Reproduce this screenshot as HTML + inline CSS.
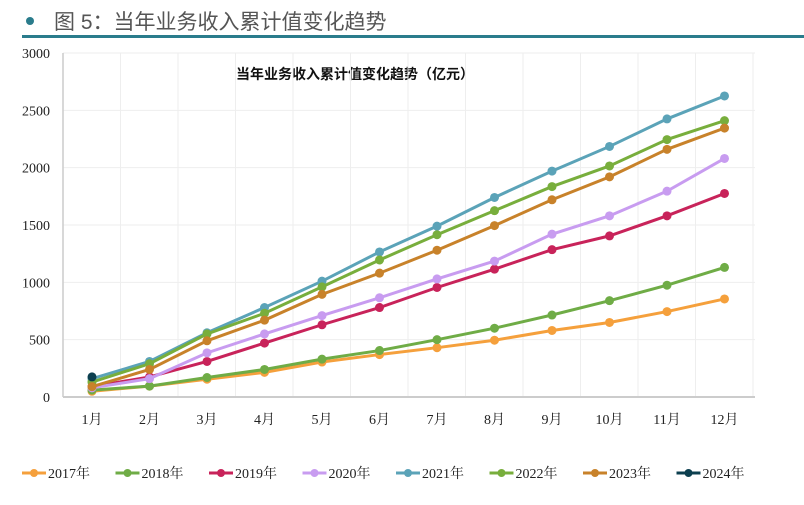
<!DOCTYPE html>
<html><head><meta charset="utf-8"><style>
body{margin:0;background:#fff;width:804px;height:500px;overflow:hidden;font-family:"Liberation Serif","Noto Serif CJK SC",serif;}
</style></head><body>
<svg id="s" width="804" height="500" xmlns="http://www.w3.org/2000/svg">
<circle cx="30" cy="21" r="4" fill="#2a7c8c"/>
<text x="54" y="29" font-family="Liberation Sans,Noto Sans CJK SC,sans-serif" font-size="21" fill="#555">图 5：当年业务收入累计值变化趋势</text>
<rect x="22" y="35" width="782" height="3" fill="#2a7c8c"/>
<text x="236" y="79" font-family="Noto Sans CJK SC,sans-serif" font-weight="bold" font-size="14" fill="#111">当年业务收入累计值变化趋势（亿元）</text>
<g id="g"></g>
</svg>
<script>
var g=document.getElementById('g'),h='';
function Y(v){return 397-v*0.11467;}
function X(i){return 92+i*57.5;}
for(var i=0;i<=12;i++){var x=63+i*57.5;h+='<line x1="'+x+'" y1="53" x2="'+x+'" y2="397" stroke="#eee"/>';}
for(var v=0;v<=3000;v+=500){h+='<line x1="63" y1="'+Y(v)+'" x2="755" y2="'+Y(v)+'" stroke="'+(v==0?'#ccc':'#eee')+'" stroke-width="'+(v==0?2:1)+'"/>';
h+='<text x="50" y="'+(Y(v)+5)+'" text-anchor="end" font-size="14" fill="#222">'+v+'</text>';}
h+='<line x1="63" y1="53" x2="63" y2="397" stroke="#ccc" stroke-width="1.5"/>';
for(var i=0;i<12;i++)h+='<text x="'+X(i)+'" y="424" text-anchor="middle" font-size="14" fill="#222">'+(i+1)+'月</text>';
var S=[
['2017年','#f5a03c',[50,95,155,215,305,370,430,495,580,650,745,855]],
['2018年','#6fac46',[60,95,170,240,330,405,500,600,715,840,975,1130]],
['2019年','#c8235a',[90,175,310,470,630,780,955,1115,1285,1405,1580,1775]],
['2020年','#c89cf0',[80,160,385,550,710,865,1030,1185,1420,1580,1795,2080]],
['2021年','#5ba3b8',[160,310,560,780,1010,1265,1490,1740,1970,2185,2425,2625]],
['2022年','#78ae3c',[130,290,550,730,960,1195,1415,1625,1835,2015,2245,2410]],
['2023年','#c8822a',[90,240,490,670,895,1080,1280,1495,1720,1920,2160,2345]],
['2024年','#0c3f4f',[175]]];
S.forEach(function(s){var p=s[2].map(function(v,i){return X(i)+','+Y(v)}).join(' ');
h+='<polyline points="'+p+'" fill="none" stroke="'+s[1]+'" stroke-width="3"/>';
s[2].forEach(function(v,i){h+='<circle cx="'+X(i)+'" cy="'+Y(v)+'" r="4.5" fill="'+s[1]+'"/>';});});
S.forEach(function(s,k){var x=22+k*93.5;h+='<line x1="'+x+'" y1="473" x2="'+(x+24)+'" y2="473" stroke="'+s[1]+'" stroke-width="3"/><circle cx="'+(x+12)+'" cy="473" r="4" fill="'+s[1]+'"/><text x="'+(x+26)+'" y="478" font-size="14" fill="#222">'+s[0]+'</text>';});
g.innerHTML=h;
</script>
</body></html>
